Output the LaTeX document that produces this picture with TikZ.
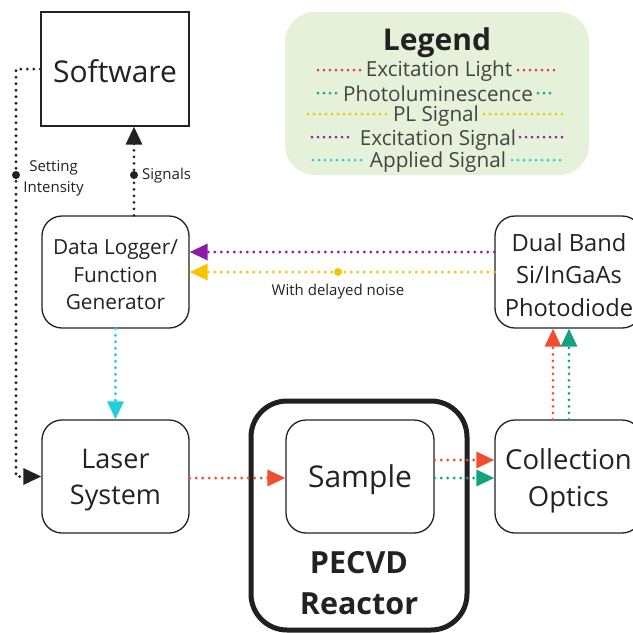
\documentclass[tikz,border=0pt]{standalone}
\usepackage{fontspec}
\setmainfont{Open Sans}
\usetikzlibrary{arrows.meta,calc}
\definecolor{cRed}{HTML}{F04E30}
\definecolor{cGreen}{HTML}{12A37E}
\definecolor{cYellow}{HTML}{F5C400}
\definecolor{cPurple}{HTML}{8E1AA8}
\definecolor{cCyan}{HTML}{22D0DA}
\definecolor{cLegRed}{HTML}{E8335A}
\definecolor{legbg}{HTML}{E5F2D9}
\definecolor{ink}{HTML}{222222}
\tikzset{
  box/.style={draw=ink, line width=1.3pt, rounded corners=20pt, inner sep=0pt},
  txt/.style={text=ink, inner sep=0pt, align=center},
  dotline/.style={line width=3.2pt, line cap=round, dash pattern=on 0pt off 6.5pt},
  arr/.style={dotline, -{Triangle[length=18pt,width=16pt]}},
  legtxt/.style={text=ink!85, inner sep=0pt, font=\fontsize{20.7}{20.7}\selectfont},
  legdot/.style={line width=3pt, line cap=round, dash pattern=on 0pt off 6pt},
}
\begin{document}
\begin{tikzpicture}[x=1pt,y=-1pt]
\useasboundingbox (0,0) rectangle (633,633);
% legend
\node[fill=legbg, rounded corners=30pt, minimum width=304pt, minimum height=163pt, inner sep=0pt] (leg) at (437,93.5) {};
\node[txt, font=\bfseries\fontsize{30}{30}\selectfont] (legt) at (437,43) {Legend};
\node[legtxt] (l1) at (439,71) {Excitation Light};
\node[legtxt] (l2) at (438,94) {Photoluminescence};
\node[legtxt] (l3) at (436,116) {PL Signal};
\node[legtxt] (l4) at (438,140) {Excitation Signal};
\node[legtxt] (l5) at (438,162) {Applied Signal};
\draw[legdot, cLegRed] (318,70) -- (361,70);  \draw[legdot, cLegRed] (518,70) -- (555,70);
\draw[legdot, cGreen] (318,93) -- (340,93);  \draw[legdot, cGreen] (538,93) -- (555,93);
\draw[legdot, cYellow] (308,114) -- (388,114); \draw[legdot, cYellow] (484,114) -- (563,114);
\draw[legdot, cPurple] (312,137) -- (350,137); \draw[legdot, cPurple] (520,137) -- (563,137);
\draw[legdot, cCyan] (313,160) -- (362,160); \draw[legdot, cCyan] (512,160) -- (563,160);
% boxes
\node[draw=ink, line width=1.3pt, minimum width=148pt, minimum height=114pt, inner sep=0pt] (sw) at (115,69) {};
\node[txt, font=\fontsize{30}{30}\selectfont] (swt) at (115,71) {Software};
\node[box, minimum width=147pt, minimum height=112pt] (dl) at (115.5,272) {};
\node[txt, font=\fontsize{20.8}{27.5}\selectfont] (dlt) at (115.5,275) {Data Logger/\\Function\\Generator};
\node[box, minimum width=147pt, minimum height=112pt] (pd) at (568.5,272) {};
\node[txt, font=\fontsize{23.7}{32.5}\selectfont] (pdt) at (569,275) {Dual Band\\Si/InGaAs\\Photodiode};
\node[box, minimum width=147pt, minimum height=113pt] (laser) at (115.5,476.5) {};
\node[txt, font=\fontsize{27}{36}\selectfont] (lat) at (115.5,480.5) {Laser\\System};
\node[draw=ink!95!black, line width=5pt, rounded corners=36pt, minimum width=216pt, minimum height=229pt, inner sep=0pt] (pecvd) at (359,515.5) {};
\node[box, minimum width=148pt, minimum height=113pt] (sample) at (360,476.5) {};
\node[txt, font=\fontsize{30}{30}\selectfont] (smt) at (360,480) {Sample};
\node[txt, font=\bfseries\fontsize{30.5}{41}\selectfont] (pl) at (359,583) {PECVD\\Reactor};
\node[box, minimum width=147pt, minimum height=113pt] (co) at (568.5,476.5) {};
\node[txt, font=\fontsize{27.5}{37}\selectfont] (cot) at (568.5,480.5) {Collection\\Optics};
% connectors
\coordinate (c1) at (16,69);
\draw[arr, ink] (sw.west) -- (c1) |- (laser.west);
\fill[ink] (16,175) circle (4pt);
\node[txt, font=\fontsize{15}{21}\selectfont] (si) at (53.5,178) {Setting\\Intensity};
\draw[arr, ink] ([xshift=18.5pt]dl.north) -- ([xshift=19pt]sw.south);
\fill[ink] (134,175) circle (4pt);
\node[txt, anchor=west, font=\fontsize{15}{15}\selectfont] (sg) at (142,176) {Signals};
\draw[arr, cPurple] ([yshift=20pt]pd.west) -- ([yshift=20pt]dl.east);
\draw[arr, cYellow] (pd.west) -- (dl.east);
\fill[cYellow] (338,272) circle (4pt);
\node[txt, font=\fontsize{15}{15}\selectfont] (dn) at (338,292) {With delayed noise};
\draw[arr, cCyan] (dl.south) -- (laser.north);
\draw[arr, cRed] ([yshift=-1.5pt]laser.east) -- ([yshift=-1.5pt]sample.west);
\draw[arr, cRed] ([yshift=16.5pt]sample.east) -- ([yshift=16.5pt]co.west);
\draw[arr, cGreen] ([yshift=-1.5pt]sample.east) -- ([yshift=-1.5pt]co.west);
\draw[arr, cRed] ([xshift=-15.5pt]co.north) -- ([xshift=-15.5pt]pd.south);
\draw[arr, cGreen] ([xshift=0.5pt]co.north) -- ([xshift=0.5pt]pd.south);
\end{tikzpicture}
\end{document}
